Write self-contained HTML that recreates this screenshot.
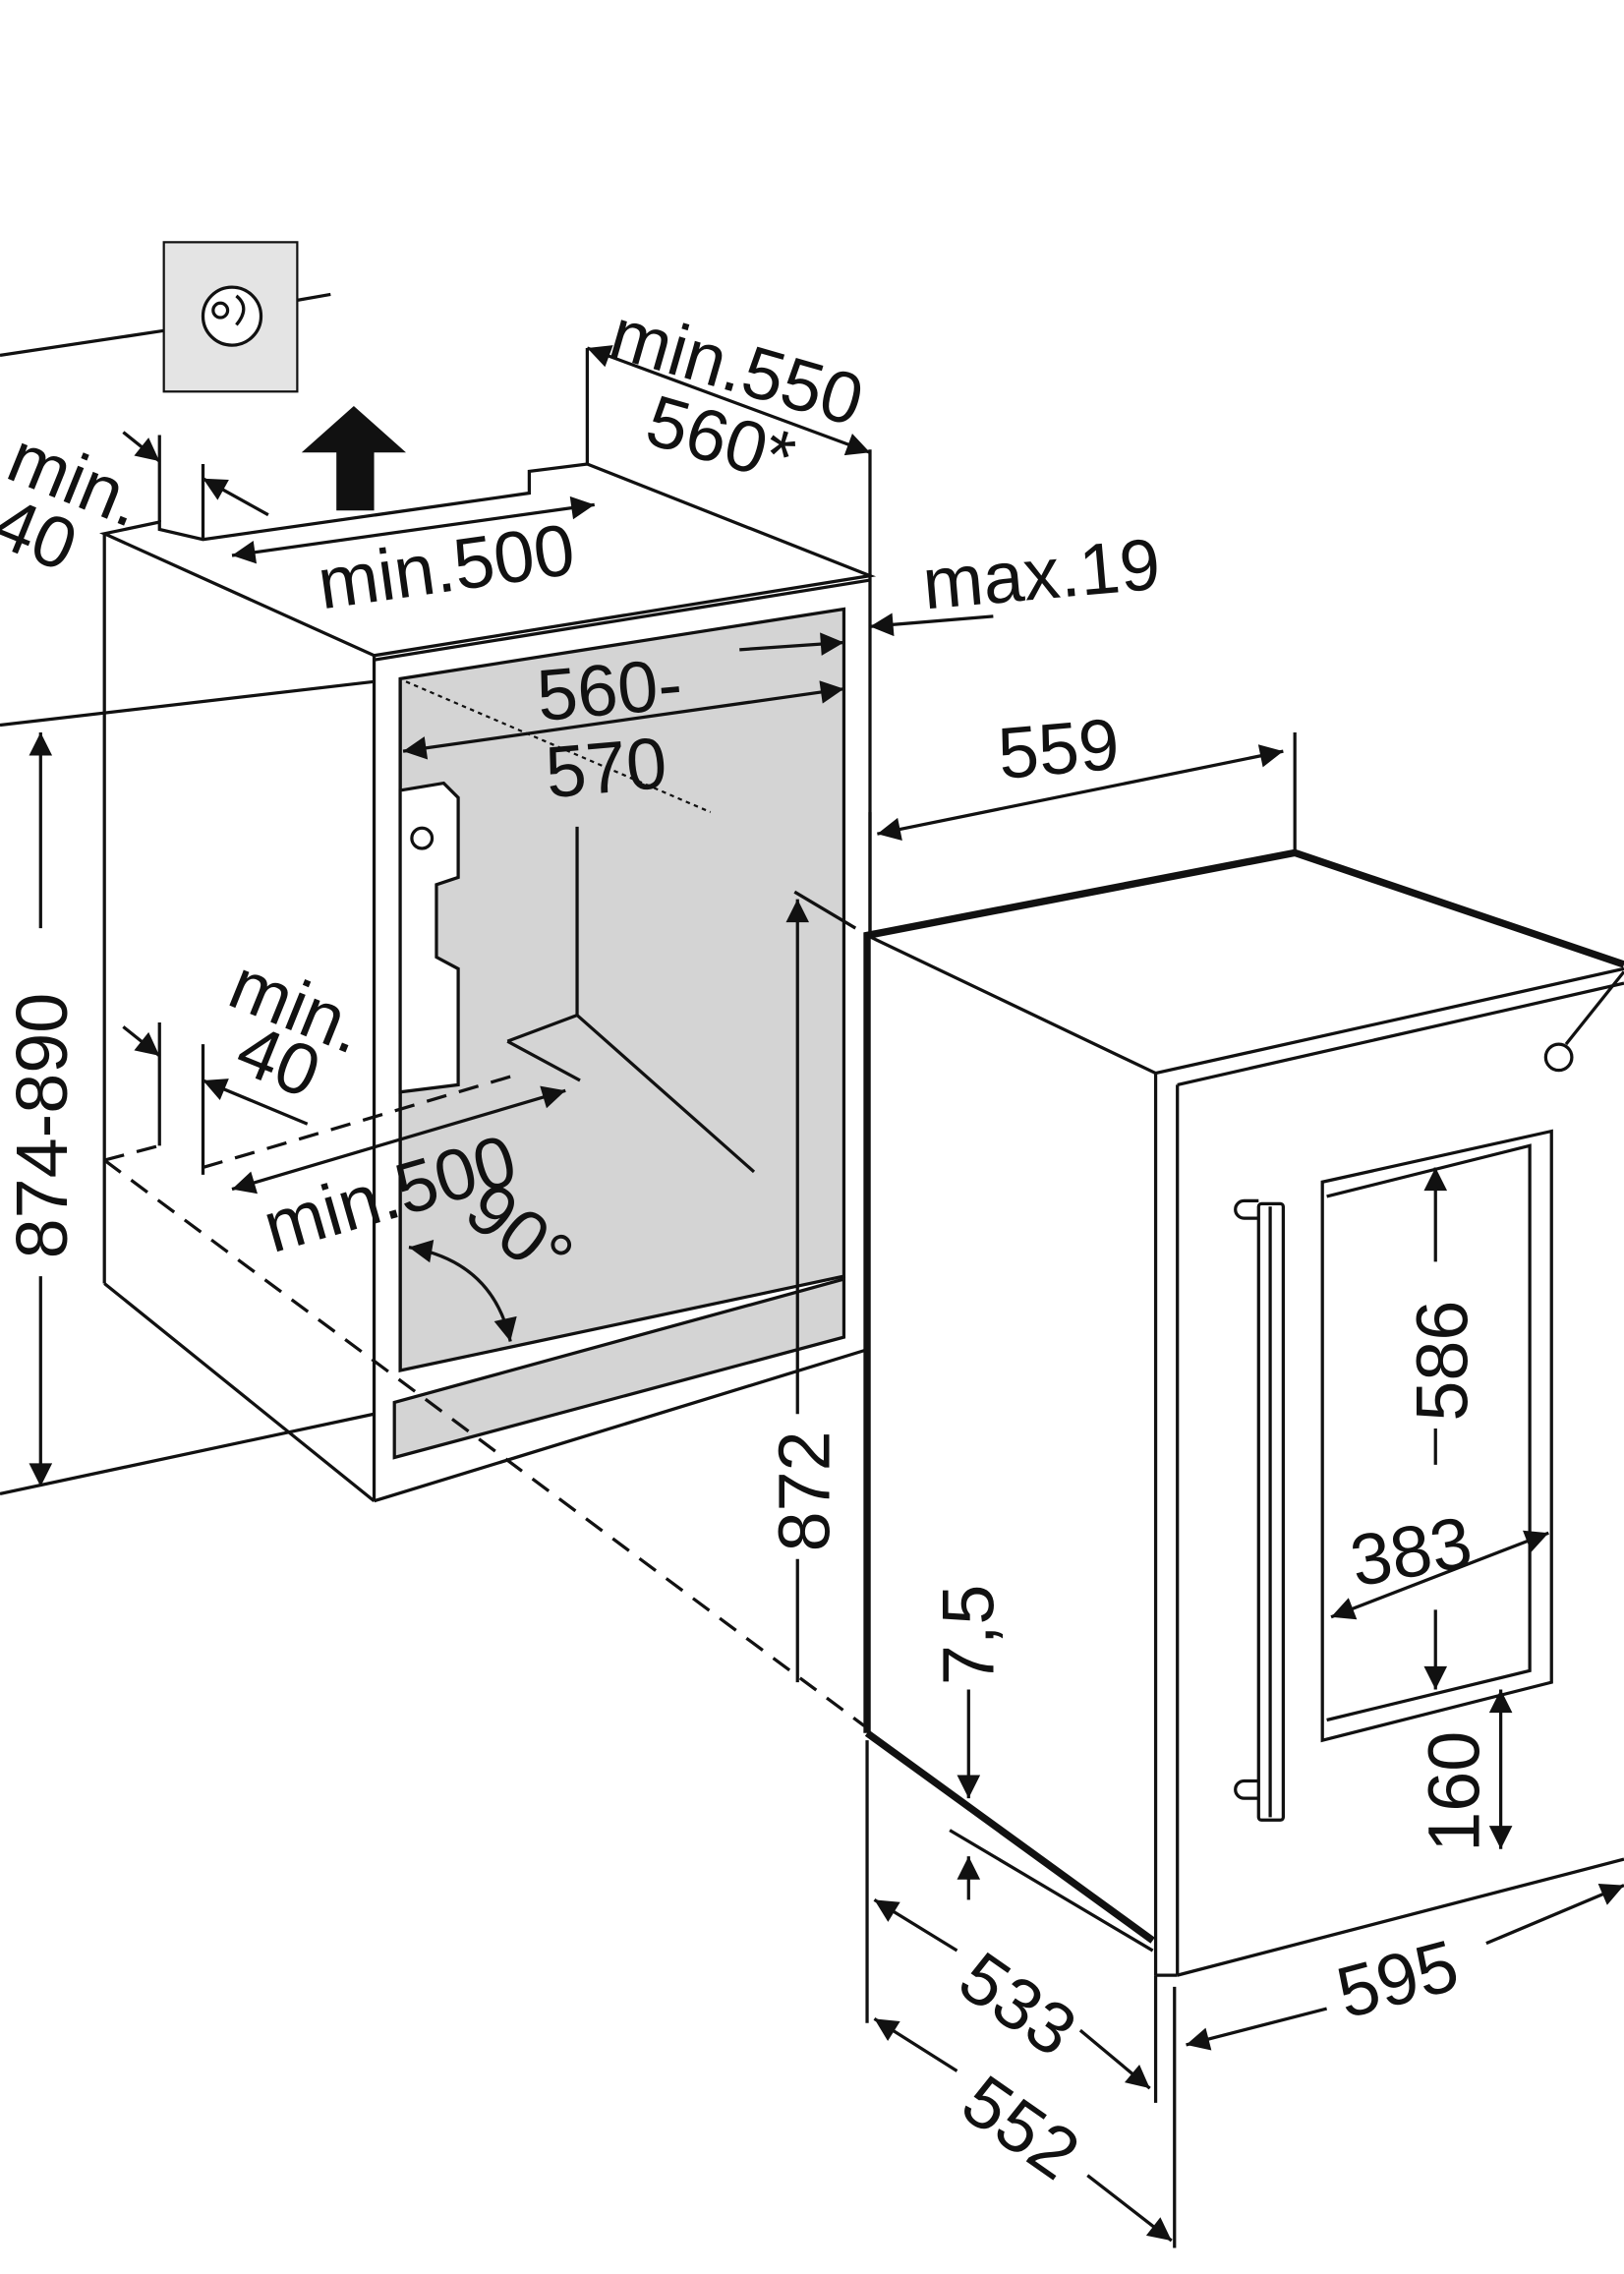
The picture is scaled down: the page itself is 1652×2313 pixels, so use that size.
<!DOCTYPE html>
<html><head><meta charset="utf-8"><style>
html,body{margin:0;padding:0;background:#fff}
svg{display:block}
text{font-family:"Liberation Sans",sans-serif;font-size:50px;fill:#111}
</style></head><body>
<svg width="1652" height="2313" viewBox="0 0 1120 1568" preserveAspectRatio="none" xmlns="http://www.w3.org/2000/svg">
<defs>
<marker id="a" viewBox="0 0 10 10" refX="10" refY="5" markerWidth="26" markerHeight="16" orient="auto-start-reverse" markerUnits="userSpaceOnUse"><path d="M0,0 L10,5 L0,10z" fill="#111"/></marker>
</defs>
<g stroke="#111" stroke-width="2.2" fill="none">
<!-- socket -->
<line x1="0" y1="245" x2="113" y2="228"/><line x1="205" y1="207" x2="228" y2="203"/>
<rect x="113" y="167" width="92" height="103" fill="#e4e4e4" stroke-width="1.5"/>
<circle cx="160" cy="218" r="20" fill="#fff"/><circle cx="152" cy="214" r="5"/><path d="M163,204 q10,8 0,20"/>
<!-- niche -->
<polygon points="72,368 110,360 110,365 140,372 365,340 365,325 405,320 600,397 258,452 72,368" fill="#fff"/>
<line x1="140" y1="372" x2="140" y2="320"/><line x1="110" y1="360" x2="110" y2="300"/>
<line x1="405" y1="320" x2="405" y2="240"/><line x1="600" y1="397" x2="600" y2="310"/>
<line x1="72" y1="368" x2="72" y2="885"/>
<line x1="258" y1="452" x2="258" y2="1035"/>
<line x1="600" y1="397" x2="600" y2="930"/>
<line x1="258" y1="1035" x2="600" y2="930"/>
<line x1="72" y1="885" x2="258" y2="1035"/>
<line x1="0" y1="500" x2="258" y2="470"/>
<line x1="0" y1="1030" x2="258" y2="975"/>
<polygon points="276,468 582,420 582,880 276,945" fill="#d4d4d4"/>
<polygon points="272,967 582,882 582,922 272,1005" fill="#d4d4d4"/>
<line x1="258" y1="455" x2="600" y2="400"/>
<line x1="276" y1="468" x2="276" y2="945"/>
<!-- niche interior -->
<line x1="280" y1="470" x2="490" y2="560" stroke-dasharray="3,3" stroke-width="1.5"/>
<line x1="398" y1="570" x2="398" y2="700"/>
<polyline points="350,718 398,700 520,808"/>
<polyline points="350,718 400,745"/>
<path d="M276,545 l30,-5 l10,10 v55 l-15,5 v50 l15,8 v80 l-40,5z" fill="#fff"/>
<circle cx="291" cy="578" r="7"/>
<!-- dashed base -->
<line x1="72" y1="800" x2="110" y2="790" stroke-dasharray="14,9"/>
<line x1="72" y1="800" x2="596" y2="1190" stroke-dasharray="14,9"/>
<line x1="140" y1="805" x2="360" y2="740" stroke-dasharray="14,9"/>
<line x1="110" y1="705" x2="110" y2="790"/><line x1="140" y1="720" x2="140" y2="810"/>
<!-- dimension lines niche -->
<line x1="85" y1="298" x2="110" y2="318" marker-end="url(#a)"/>
<line x1="185" y1="355" x2="140" y2="330" marker-end="url(#a)"/>
<line x1="160" y1="383" x2="410" y2="348" marker-start="url(#a)" marker-end="url(#a)"/>
<line x1="405" y1="240" x2="600" y2="312" marker-start="url(#a)" marker-end="url(#a)"/>
<line x1="685" y1="425" x2="600" y2="432" marker-end="url(#a)"/>
<line x1="510" y1="448" x2="582" y2="443" marker-end="url(#a)"/>
<line x1="278" y1="518" x2="582" y2="475" marker-start="url(#a)" marker-end="url(#a)"/>
<line x1="28" y1="505" x2="28" y2="640" marker-start="url(#a)"/>
<line x1="28" y1="880" x2="28" y2="1025" marker-end="url(#a)"/>
<line x1="85" y1="708" x2="110" y2="728" marker-end="url(#a)"/>
<line x1="212" y1="775" x2="140" y2="745" marker-end="url(#a)"/>
<line x1="160" y1="820" x2="390" y2="752" marker-start="url(#a)" marker-end="url(#a)"/>
<path d="M282,860 Q340,870 352,925" marker-start="url(#a)" marker-end="url(#a)"/>
<line x1="548" y1="615" x2="590" y2="640"/>
<line x1="550" y1="620" x2="550" y2="975" marker-start="url(#a)"/>
<line x1="550" y1="1075" x2="550" y2="1160"/>
<!-- appliance -->
<polygon points="598,645 893,588 1120,665 1120,1280 797,1362 598,1195" fill="#fff" stroke="none"/>
<polyline points="598,1195 598,645 893,588 1120,665" stroke-width="5"/>
<line x1="598" y1="1195" x2="795" y2="1338" stroke-width="5"/>
<line x1="598" y1="645" x2="797" y2="740"/>
<polyline points="797,1362 797,740 1120,668"/>
<line x1="812" y1="748" x2="812" y2="1362"/>
<line x1="812" y1="748" x2="1120" y2="678"/>
<line x1="797" y1="1362" x2="812" y2="1362"/>
<line x1="812" y1="1362" x2="1120" y2="1282"/>
<line x1="1120" y1="670" x2="1080" y2="720"/>
<circle cx="1075" cy="729" r="9"/>
<polygon points="912,815 1070,780 1070,1160 912,1200"/>
<polyline points="915,825 1055,790 1055,1152 915,1186"/>
<rect x="868" y="830" width="17" height="425" rx="2" fill="#fff"/>
<line x1="876" y1="832" x2="876" y2="1253"/>
<path d="M868,840 h-10 a6,6 0 0 1 0,-12 h10"/>
<path d="M868,1228 h-10 a6,6 0 0 0 0,12 h10"/>
<!-- appliance dims -->
<line x1="893" y1="588" x2="893" y2="505"/>
<line x1="600" y1="560" x2="600" y2="645"/>
<line x1="605" y1="575" x2="885" y2="518" marker-start="url(#a)" marker-end="url(#a)"/>
<line x1="990" y1="805" x2="990" y2="870" marker-start="url(#a)"/>
<line x1="990" y1="985" x2="990" y2="1010"/>
<line x1="990" y1="1110" x2="990" y2="1165" marker-end="url(#a)"/>
<line x1="918" y1="1115" x2="1068" y2="1057" marker-start="url(#a)" marker-end="url(#a)"/>
<line x1="1035" y1="1165" x2="1035" y2="1275" marker-start="url(#a)" marker-end="url(#a)"/>
<line x1="668" y1="1165" x2="668" y2="1240" marker-end="url(#a)"/>
<line x1="668" y1="1310" x2="668" y2="1280" marker-end="url(#a)"/>
<line x1="655" y1="1262" x2="795" y2="1345"/>
<line x1="598" y1="1200" x2="598" y2="1395"/>
<line x1="797" y1="1362" x2="797" y2="1450"/>
<line x1="810" y1="1370" x2="810" y2="1550"/>
<line x1="603" y1="1310" x2="660" y2="1345" marker-start="url(#a)"/>
<line x1="745" y1="1400" x2="793" y2="1440" marker-end="url(#a)"/>
<line x1="603" y1="1392" x2="660" y2="1428" marker-start="url(#a)"/>
<line x1="750" y1="1500" x2="808" y2="1545" marker-end="url(#a)"/>
<line x1="818" y1="1410" x2="915" y2="1385" marker-start="url(#a)"/>
<line x1="1025" y1="1340" x2="1120" y2="1300" marker-end="url(#a)"/>
<path d="M244,280 L280,312 L258,312 L258,352 L232,352 L232,312 L208,312 Z" fill="#111" stroke="none"/>
</g>
<!-- labels -->
<text x="0" y="340" transform="rotate(22 30 340)">min.</text>
<text x="-10" y="385" transform="rotate(22 20 385)">40</text>
<text x="222" y="420" transform="rotate(-8 222 420)">min.500</text>
<text x="418" y="245" transform="rotate(16 418 245)">min.550</text>
<text x="443" y="305" transform="rotate(16 443 305)">560*</text>
<text x="638" y="420" transform="rotate(-5 638 420)">max.19</text>
<text x="372" y="497" transform="rotate(-5 372 497)">560-</text>
<text x="378" y="550" transform="rotate(-5 378 550)">570</text>
<text x="690" y="537" transform="rotate(-5 690 537)">559</text>
<text x="0" y="0" transform="translate(46 868) rotate(-90)">874-890</text>
<text x="155" y="692" transform="rotate(22 155 692)">min.</text>
<text x="160" y="737" transform="rotate(22 160 737)">40</text>
<text x="188" y="864" transform="rotate(-16 188 864)">min.500</text>
<text x="318" y="840" transform="rotate(38 318 840)">90°</text>
<text x="0" y="0" transform="translate(572 1070) rotate(-90)">872</text>
<text x="0" y="0" transform="translate(685 1162) rotate(-90)">7,5</text>
<text x="0" y="0" transform="translate(1012 980) rotate(-90)">586</text>
<text x="935" y="1094" transform="rotate(-10 935 1094)">383</text>
<text x="0" y="0" transform="translate(1020 1277) rotate(-90)">160</text>
<text x="658" y="1372" transform="rotate(35 658 1372)">533</text>
<text x="660" y="1457" transform="rotate(35 660 1457)">552</text>
<text x="928" y="1392" transform="rotate(-15 928 1392)">595</text>
</svg>
</body></html>
